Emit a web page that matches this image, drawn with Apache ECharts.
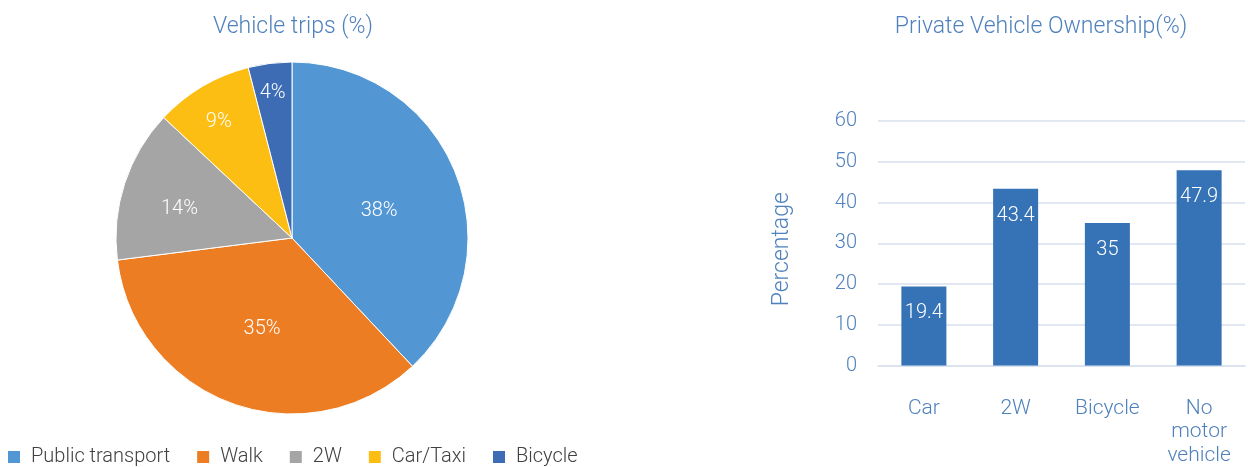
<!DOCTYPE html>
<html><head><meta charset="utf-8">
<script src="https://cdn.jsdelivr.net/npm/echarts@6/dist/echarts.min.js"></script>
<style>html,body{margin:0;padding:0;background:#fff}#c{width:1248px;height:467px}</style>
</head><body><div id="c"></div>
<script>
const pieTitle = 'Vehicle trips (%)';
const pieNames = ['Public transport', 'Walk', '2W', 'Car/Taxi', 'Bicycle'];
const pieValues = [38, 35, 14, 9, 4];
const barTitle = 'Private Vehicle Ownership(%)';
const barCategories = ['Car', '2W', 'Bicycle', 'No motor vehicle'];
const barValues = [19.4, 43.4, 35, 47.9];
const yTicks = [0, 10, 20, 30, 40, 50, 60];

// style: colours and how far out (relative to the default inner position) each pie label sits
const pieColors = ['#5297D3', '#ED7D23', '#A5A5A5', '#FDBE14', '#3D6CB5'];
const pieLabelSpread = [1.03, 0.97, 1.3, 1.58, 1.7];
const pieCenter = [292, 238];
const blue = '#4F81BD';
const font = 'Roboto';

const chart = echarts.init(document.getElementById('c'));
chart.setOption({
  animation: false,
  title: [
    {text: pieTitle, left: 288, top: 11, textAlign: 'center',
     textStyle: {color: blue, fontFamily: font, fontWeight: 300, fontSize: 23}},
    {text: barTitle, left: 1036, top: 11, textAlign: 'center',
     textStyle: {color: blue, fontFamily: font, fontWeight: 300, fontSize: 23}}
  ],
  legend: {
    data: pieNames, left: 1, top: 442, icon: 'rect', itemWidth: 14, itemHeight: 14,
    itemGap: 25, textStyle: {color: '#404040', fontFamily: font, fontWeight: 300, fontSize: 20, padding: [0,0,0,5]}
  },
  grid: {left: 878, right: 3, top: 121, bottom: 101},
  xAxis: {
    type: 'category', data: barCategories,
    axisLine: {show: true, lineStyle: {color: '#D9E1EE', width: 1.5}}, axisTick: {show: false},
    axisLabel: {color: blue, fontFamily: font, fontWeight: 300, fontSize: 21, margin: 31, lineHeight: 23.5,
      formatter: v => v.split(' ').join('\n')}
  },
  yAxis: {
    type: 'value', min: yTicks[0], max: yTicks[yTicks.length-1], interval: 10,
    name: 'Percentage', nameLocation: 'middle', nameGap: 84, nameRotate: 90,
    nameTextStyle: {color: blue, fontFamily: font, fontWeight: 300, fontSize: 23, padding: [0, 12, 0, 0]},
    axisLine: {show: false}, axisTick: {show: false},
    axisLabel: {color: blue, fontFamily: font, fontWeight: 300, fontSize: 20, margin: 21},
    splitLine: {lineStyle: {color: '#D9E1EE', width: 1.5}}
  },
  series: [
    {
      type: 'pie', center: pieCenter, radius: 176, startAngle: 90, clockwise: true,
      data: pieNames.map((n, i) => ({name: n, value: pieValues[i], itemStyle: {color: pieColors[i]}})),
      itemStyle: {borderColor: '#fff', borderWidth: 1},
      label: {position: 'inner', formatter: '{c}%', color: '#fff', fontFamily: font, fontWeight: 300, fontSize: 20},
      labelLine: {show: false},
      labelLayout: function (p) {
        const k = pieLabelSpread[p.dataIndex] - 1;
        const cx = p.labelRect.x + p.labelRect.width / 2;
        const cy = p.labelRect.y + p.labelRect.height / 2;
        return {dx: (cx - pieCenter[0]) * k, dy: (cy - pieCenter[1]) * k + 8};
      }
    },
    {
      type: 'bar', data: barValues, barWidth: 45, itemStyle: {color: '#3672B6'},
      label: {show: true, position: 'insideTop', distance: 17, color: '#fff', fontFamily: font, fontWeight: 300, fontSize: 20}
    }
  ]
});
</script></body></html>
